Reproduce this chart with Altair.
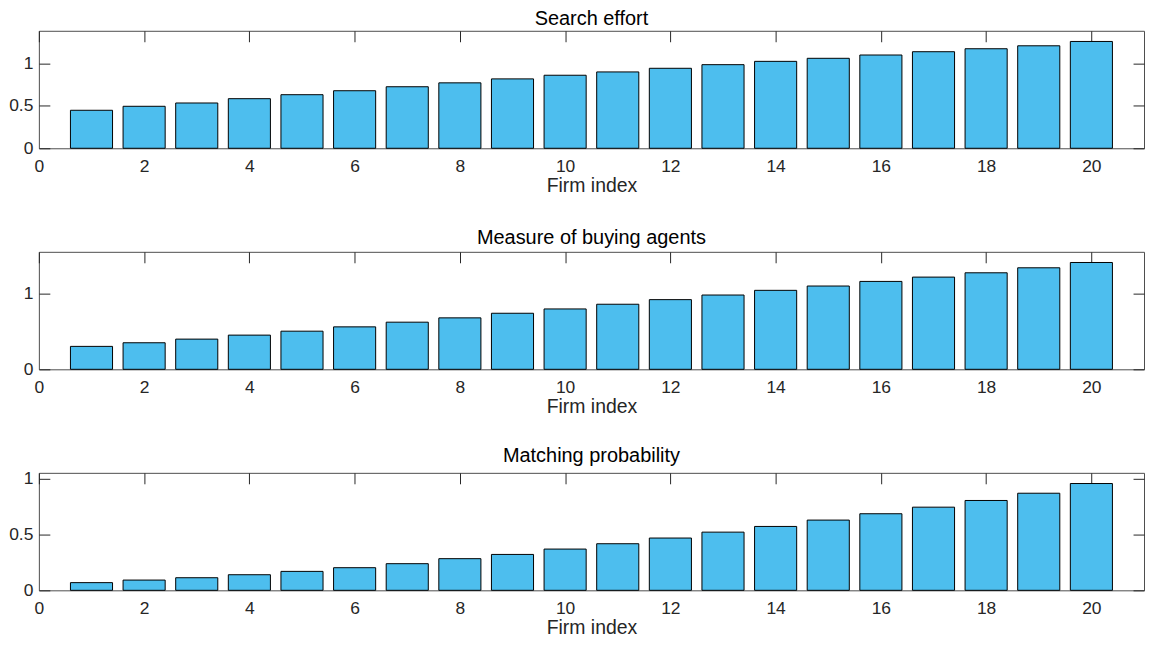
import altair as alt
import pandas as pd

firms = list(range(1, 21))
search_effort = [0.449, 0.496, 0.535, 0.586, 0.633, 0.680, 0.727, 0.773, 0.820, 0.863,
                 0.902, 0.945, 0.988, 1.027, 1.063, 1.102, 1.141, 1.176, 1.211, 1.262]
buying_agents = [0.303, 0.351, 0.399, 0.452, 0.504, 0.561, 0.623, 0.680, 0.741, 0.798,
                 0.860, 0.921, 0.982, 1.044, 1.101, 1.162, 1.219, 1.276, 1.342, 1.412]
matching_prob = [0.069, 0.092, 0.113, 0.140, 0.170, 0.203, 0.239, 0.284, 0.322, 0.370,
                 0.418, 0.469, 0.522, 0.573, 0.630, 0.687, 0.746, 0.806, 0.871, 0.958]
titles = ["Search effort", "Measure of buying agents", "Matching probability"]
x_label = "Firm index"
x_ticks = [0, 2, 4, 6, 8, 10, 12, 14, 16, 18, 20]
y_ticks = [[0, 0.5, 1], [0, 1], [0, 0.5, 1]]
title_offsets = [-14.3, -12.3, -12.3]

FONT = "Liberation Sans"
W, H = 1110, 118
BAR_COLOR = "#4DBEEE"
AXIS_COLOR = "#262626"
BOX_COLOR = "#4d4d4d"


def panel(values, title, yticks, toff):
    df = pd.DataFrame({"firm": firms, "value": values})
    ymax = 1.1 * max(values)
    xs = alt.Scale(domain=[0, 21], nice=False, zero=False)
    ys = alt.Scale(domain=[0, ymax], nice=False)
    base = alt.Chart(df)
    bars = base.mark_bar(color=BAR_COLOR, stroke="black", strokeWidth=1).transform_calculate(
        x0="datum.firm - 0.4", x1="datum.firm + 0.4"
    ).encode(
        x=alt.X("x0:Q", scale=xs, axis=alt.Axis(
            orient="bottom", values=x_ticks, format="d", tickSize=0, labelPadding=9,
            domain=False, grid=False, labelFlush=False, title=x_label,
            titleY=43.3, titleBaseline="alphabetic", titleFontSize=19.5,
            titleFontWeight="normal", titleColor=AXIS_COLOR, minExtent=0)),
        x2="x1:Q",
        y=alt.Y("value:Q", scale=ys, axis=alt.Axis(
            orient="left", values=yticks, format=".1~f", offset=-11, tickSize=11,
            labelPadding=6, domain=False, grid=False, labelFlush=False, title=None,
            minExtent=0)),
        y2=alt.datum(0),
    )
    ticks = base.mark_point(opacity=0).encode(
        x=alt.X("firm:Q", scale=xs, axis=alt.Axis(
            orient="top", values=x_ticks, offset=-11, tickSize=11, labels=False,
            domain=False, grid=False, title=None, minExtent=0)),
        y=alt.Y("value:Q", scale=ys, axis=alt.Axis(
            orient="right", values=yticks, offset=-11, tickSize=11, labels=False,
            domain=False, grid=False, title=None, minExtent=0)),
    )
    return alt.layer(bars, ticks).resolve_axis(x="independent", y="independent").properties(
        width=W, height=H,
        title=alt.TitleParams(text=title, font=FONT, fontSize=20, fontWeight="normal",
                              color="black", anchor="middle", frame="group",
                              baseline="alphabetic", offset=toff),
    )


chart = alt.vconcat(
    panel(search_effort, titles[0], y_ticks[0], title_offsets[0]),
    panel(buying_agents, titles[1], y_ticks[1], title_offsets[1]),
    panel(matching_prob, titles[2], y_ticks[2], title_offsets[2]),
    spacing=104, bounds="flush",
).properties(
    padding={"top": -1.5, "left": 0, "right": 0, "bottom": 0}
).configure_view(
    stroke=BOX_COLOR, strokeWidth=1
).configure_axis(
    labelFont=FONT, labelFontSize=17.5, labelColor=AXIS_COLOR,
    titleFont=FONT, tickColor=AXIS_COLOR, tickWidth=1
)

chart.save("out.html", embed_options={"renderer": "svg", "actions": False})
